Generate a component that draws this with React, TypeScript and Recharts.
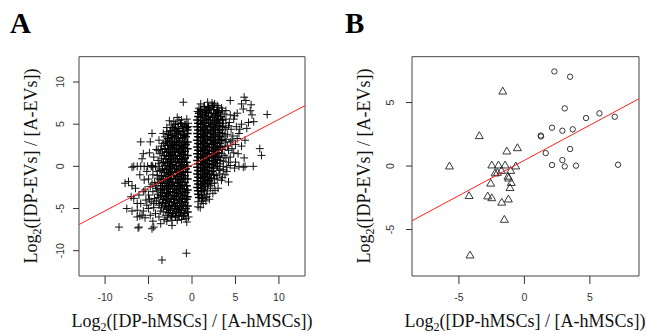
import React from "react";
import { ScatterChart, Scatter, XAxis, YAxis, ReferenceArea } from "recharts";

// ---------- Panel A data (Log2 ratios) ----------
const coreLeftA: number[][] = [
  [-1.9,5.0],[-1.3,5.1],[-0.8,4.9],
  [-2.2,4.6],[-1.6,4.5],[-1.1,4.7],[-0.6,4.6],
  [-2.5,4.2],[-2.0,4.3],[-1.5,4.1],[-1.0,4.2],[-0.5,4.3],
  [-2.7,3.8],[-2.3,3.7],[-1.8,3.9],[-1.3,3.8],[-0.9,3.7],[-0.5,3.9],
  [-2.8,3.3],[-2.4,3.4],[-2.0,3.5],[-1.6,3.3],[-1.1,3.4],[-0.7,3.5],
  [-3.0,2.9],[-2.6,3.0],[-2.2,2.8],[-1.8,2.9],[-1.4,3.0],[-0.9,2.8],[-0.5,2.9],
  [-2.8,2.5],[-2.4,2.4],[-2.0,2.6],[-1.6,2.5],[-1.2,2.4],[-0.7,2.6],
  [-3.1,2.1],[-2.7,2.0],[-2.2,2.2],[-1.8,2.1],[-1.4,2.0],[-1.0,2.2],[-0.5,2.1],
  [-2.9,1.7],[-2.5,1.6],[-2.0,1.8],[-1.6,1.7],[-1.2,1.6],[-0.8,1.8],
  [-3.2,1.3],[-2.7,1.2],[-2.3,1.4],[-1.9,1.3],[-1.4,1.2],[-1.0,1.4],[-0.5,1.3],
  [-3.0,0.9],[-2.5,0.8],[-2.1,1.0],[-1.7,0.9],[-1.2,0.8],[-0.8,1.0],
  [-3.3,0.5],[-2.8,0.4],[-2.4,0.6],[-1.9,0.5],[-1.5,0.4],[-1.1,0.6],[-0.6,0.5],
  [-3.1,0.1],[-2.6,0.0],[-2.2,0.2],[-1.8,0.1],[-1.3,0.0],[-0.9,0.2],[-0.5,0.0],
  [-3.4,-0.3],[-2.9,-0.4],[-2.5,-0.2],[-2.0,-0.3],[-1.6,-0.4],[-1.2,-0.2],[-0.7,-0.3],
  [-3.2,-0.7],[-2.7,-0.8],[-2.3,-0.6],[-1.8,-0.7],[-1.4,-0.8],[-1.0,-0.6],[-0.5,-0.7],
  [-3.5,-1.1],[-3.0,-1.2],[-2.5,-1.0],[-2.1,-1.1],[-1.7,-1.2],[-1.2,-1.0],[-0.8,-1.1],
  [-3.3,-1.5],[-2.8,-1.6],[-2.4,-1.4],[-1.9,-1.5],[-1.5,-1.6],[-1.0,-1.4],[-0.5,-1.5],
  [-3.6,-1.9],[-3.1,-2.0],[-2.6,-1.8],[-2.2,-1.9],[-1.7,-2.0],[-1.3,-1.8],[-0.8,-1.9],
  [-3.4,-2.3],[-2.9,-2.4],[-2.4,-2.2],[-2.0,-2.3],[-1.5,-2.4],[-1.1,-2.2],[-0.6,-2.3],
  [-3.6,-2.7],[-3.2,-2.8],[-2.7,-2.6],[-2.2,-2.7],[-1.8,-2.8],[-1.3,-2.6],[-0.9,-2.7],[-0.5,-2.8],
  [-3.4,-3.1],[-2.9,-3.2],[-2.5,-3.0],[-2.0,-3.1],[-1.6,-3.2],[-1.1,-3.0],[-0.7,-3.1],
  [-3.6,-3.5],[-3.1,-3.6],[-2.7,-3.4],[-2.2,-3.5],[-1.8,-3.6],[-1.3,-3.4],[-0.9,-3.5],[-0.5,-3.6],
  [-3.3,-3.9],[-2.9,-4.0],[-2.4,-3.8],[-2.0,-3.9],[-1.5,-4.0],[-1.1,-3.8],[-0.6,-3.9],
  [-3.4,-4.3],[-3.0,-4.4],[-2.6,-4.2],[-2.1,-4.3],[-1.7,-4.4],[-1.2,-4.2],[-0.8,-4.3],
  [-3.1,-4.7],[-2.7,-4.8],[-2.3,-4.6],[-1.9,-4.7],[-1.4,-4.8],[-1.0,-4.6],[-0.5,-4.7],
  [-2.9,-5.1],[-2.5,-5.2],[-2.0,-5.0],[-1.6,-5.1],[-1.2,-5.2],[-0.7,-5.0],
  [-2.7,-5.5],[-2.2,-5.6],[-1.8,-5.4],[-1.3,-5.5],[-0.9,-5.6],[-0.5,-5.4],
  [-2.4,-5.9],[-1.9,-6.0],[-1.5,-5.8],[-1.0,-5.9],
];

const coreRightA: number[][] = [
  [1.4,7.1],[1.9,7.0],[2.4,7.2],
  [1.0,6.7],[1.5,6.6],[2.0,6.8],[2.5,6.7],[2.9,6.6],
  [0.8,6.3],[1.2,6.2],[1.7,6.4],[2.2,6.3],[2.7,6.2],[3.1,6.4],
  [0.7,5.9],[1.0,5.8],[1.5,6.0],[1.9,5.9],[2.4,5.8],[2.9,6.0],[3.3,5.9],
  [0.6,5.5],[1.2,5.4],[1.7,5.6],[2.1,5.5],[2.6,5.4],[3.0,5.6],[3.5,5.5],
  [0.7,5.1],[1.0,5.0],[1.4,5.2],[1.9,5.1],[2.3,5.0],[2.8,5.2],[3.2,5.1],
  [0.6,4.7],[1.2,4.6],[1.6,4.8],[2.1,4.7],[2.5,4.6],[3.0,4.8],[3.5,4.7],
  [0.7,4.3],[1.0,4.2],[1.4,4.4],[1.8,4.3],[2.3,4.2],[2.7,4.4],[3.2,4.3],
  [0.6,3.9],[1.2,3.8],[1.6,4.0],[2.1,3.9],[2.5,3.8],[3.0,4.0],[3.5,3.9],
  [0.7,3.5],[1.0,3.4],[1.4,3.6],[1.8,3.5],[2.3,3.4],[2.7,3.6],[3.2,3.5],
  [0.6,3.1],[1.2,3.0],[1.6,3.2],[2.1,3.1],[2.5,3.0],[3.0,3.2],[3.4,3.1],
  [0.7,2.7],[1.0,2.6],[1.4,2.8],[1.8,2.7],[2.3,2.6],[2.7,2.8],[3.2,2.7],
  [0.6,2.3],[1.2,2.2],[1.6,2.4],[2.0,2.3],[2.5,2.2],[2.9,2.4],[3.3,2.3],
  [0.7,1.9],[1.0,1.8],[1.4,2.0],[1.8,1.9],[2.3,1.8],[2.7,2.0],[3.1,1.9],
  [0.6,1.5],[1.2,1.4],[1.6,1.6],[2.0,1.5],[2.5,1.4],[2.9,1.6],
  [0.7,1.1],[1.0,1.0],[1.4,1.2],[1.8,1.1],[2.3,1.0],[2.7,1.2],[3.1,1.1],
  [0.6,0.7],[1.2,0.6],[1.6,0.8],[2.0,0.7],[2.5,0.6],[2.9,0.8],
  [0.7,0.3],[1.0,0.2],[1.4,0.4],[1.8,0.3],[2.3,0.2],[2.7,0.4],
  [0.6,-0.1],[1.2,-0.2],[1.6,0.0],[2.0,-0.1],[2.5,-0.2],[2.9,0.0],
  [0.7,-0.5],[1.0,-0.6],[1.4,-0.4],[1.8,-0.5],[2.3,-0.6],
  [0.6,-0.9],[1.2,-1.0],[1.6,-0.8],[2.0,-0.9],[2.5,-1.0],
  [0.7,-1.3],[1.0,-1.4],[1.4,-1.2],[1.8,-1.3],[2.2,-1.4],
  [0.6,-1.7],[1.2,-1.8],[1.6,-1.6],[2.0,-1.7],
  [0.7,-2.1],[1.0,-2.2],[1.4,-2.0],[1.8,-2.1],
  [0.6,-2.5],[1.1,-2.6],[1.5,-2.4],
  [0.7,-2.9],[1.1,-3.0],[1.4,-2.8],
  [0.7,-3.3],[1.1,-3.4],
  [0.8,-3.7],[1.2,-3.8],
];

const edgeA: number[][] = [
  [-3.6,2.0],[-3.9,1.9],[-3.5,0.9],[-3.8,0.3],[-3.7,-0.5],[-4.0,-1.1],[-3.9,-2.0],[-4.2,-2.3],
  [-4.0,-2.9],[-3.9,-3.7],[-4.1,-4.1],[-3.7,-4.4],[-3.5,-4.9],[-3.3,-5.4],[-3.0,-5.8],[-2.8,-6.1],
  [-0.4,-6.0],[-0.6,-6.6],[-3.1,3.5],[-2.9,4.1],[-2.4,4.9],[-0.45,5.1],[-0.4,4.7],[-2.1,5.3],
  [-1.2,5.5],[-3.3,2.7],[-3.4,1.7],[-3.7,-1.6],[-4.6,-2.1],[-4.4,-4.4],[-5.2,-4.6],[-4.9,-3.9],
  [3.6,5.1],[3.8,4.4],[3.7,3.6],[3.9,2.9],[3.5,2.0],[3.4,1.5],[3.3,0.7],[3.2,0.3],[3.1,-0.5],
  [2.8,-1.1],[2.6,-1.5],[2.3,-2.0],[2.1,-2.6],[1.8,-2.9],[1.7,-3.3],[1.5,-3.7],[0.7,-4.2],
  [1.1,-4.1],[3.7,6.2],[3.5,6.6],[2.9,7.2],[0.8,6.9],[0.65,6.5],[4.2,4.8],[4.6,3.1],[4.1,2.4],
  [3.9,1.0],[4.6,2.1],[5.2,3.3],[5.5,4.4],[4.9,6.0],[5.9,6.8],[3.6,-0.4],[4.0,-0.6],[3.8,-1.0],
];

const outerLeftA: number[][] = [
  [-2.6,5.4],[-1.5,5.5],[-0.6,5.6],[-1.7,5.8],[-1.0,7.6],[-2.9,4.6],[-3.3,3.9],[-3.8,3.1],
  [-3.5,2.4],[-4.1,2.0],[-3.7,1.5],[-4.4,1.1],[-3.9,0.7],[-4.6,3.9],[-4.8,2.9],[-5.9,2.9],
  [-5.6,1.5],[-5.75,0.9],[-4.9,1.6],
  [-6.9,-0.1],[-6.7,0.0],[-6.3,0.0],[-5.9,0.0],[-5.5,0.0],[-5.1,0.0],[-4.7,0.0],[-4.6,0.1],
  [-4.5,-0.1],[-4.6,0.0],[-4.2,0.0],[-3.8,0.0],
  [-4.0,-0.6],[-4.5,-1.0],[-3.9,-1.4],[-5.0,-1.5],[-4.3,-1.9],[-5.5,-1.6],[-6.0,-1.0],[-5.2,-0.6],
  [-4.8,-2.4],[-4.1,-2.6],[-5.4,-2.8],[-4.5,-3.0],[-3.9,-3.3],[-5.0,-3.4],[-5.6,-3.0],[-6.1,-3.4],
  [-4.3,-3.8],[-3.8,-4.6],[-4.7,-4.2],[-5.3,-4.0],[-5.9,-4.4],[-4.4,-4.9],[-3.6,-5.3],[-5.0,-5.0],
  [-5.6,-5.3],[-4.2,-5.6],[-4.8,-5.8],[-6.3,-5.2],[-6.0,-5.9],[-5.4,-6.1],[-3.8,-6.0],[-3.2,-6.3],
  [-2.9,-6.5],[-2.3,-6.4],[-1.7,-6.4],[-1.2,-6.3],[-0.7,-6.2],[-4.5,-6.5],[-3.6,-6.8],[-2.3,-7.0],
  [-7.7,-2.0],[-7.3,-1.8],[-6.9,-2.3],[-6.5,-2.6],[-6.7,-3.8],[-7.0,-3.6],[-6.3,-4.4],[-7.5,-5.0],
  [-6.9,-5.3],[-6.3,-6.0],[-5.75,-5.8],
  [-8.4,-7.2],[-6.2,-7.3],[-6.1,-7.2],[-4.6,-7.4],[-4.4,-7.2],[-3.45,-11.1],[-0.65,-10.3],
];

const outerRightA: number[][] = [
  [2.3,7.5],[2.6,7.4],[3.0,7.0],[3.4,6.9],[1.0,7.4],[1.8,7.6],[4.4,7.8],[5.7,7.4],[6.0,8.2],
  [6.2,7.8],[6.8,7.3],[6.7,6.6],[6.9,6.1],[8.65,6.15],[4.4,6.1],[5.2,6.3],[3.9,6.6],[5.7,5.0],
  [6.5,5.2],[7.1,5.3],[6.3,4.5],[3.9,5.6],[4.3,5.2],[4.8,5.6],[3.9,4.6],[4.5,4.4],[5.1,4.7],
  [4.1,3.8],[4.7,3.6],[5.4,3.9],[6.1,3.1],[3.9,3.2],[4.4,2.9],[5.0,2.6],[5.7,2.4],[3.8,2.4],
  [4.2,1.9],[4.8,1.6],[3.7,1.3],[4.4,1.1],[5.3,1.5],[6.0,1.0],[3.6,0.6],[4.2,0.5],[5.0,0.5],
  [3.2,-0.3],[3.6,0.0],[4.0,-0.1],[4.4,0.1],[4.9,-0.2],[5.4,0.0],[5.9,-0.1],[6.1,0.0],[7.05,0.0],
  [7.8,2.1],[8.0,1.3],
  [3.2,-0.9],[3.5,-1.3],[2.9,-1.5],[3.4,-1.65],[4.2,-1.85],[2.6,-2.0],[3.0,-2.6],[2.65,-2.85],
  [2.1,-2.3],[2.4,-3.2],[1.7,-3.6],[1.3,-4.4],[0.7,-4.8],[0.95,-4.9],[2.0,-3.9],[1.6,-4.1],
];

const ticksA = [-10, -5, 0, 5, 10];
const domainA: [number, number] = [-13, 13];
const fitA = [{ x: -13, y: -6.9 }, { x: 13, y: 7.2 }];

// ---------- Panel B data ----------
const trianglesB: number[][] = [
  [-5.72,-0.05],[-3.44,2.34],[-1.65,5.85],[-1.34,1.13],[-0.53,1.39],[-2.49,0.03],[-1.98,0.03],
  [-1.47,0.03],[-0.66,-0.05],[-2.24,-0.6],[-2.06,-0.55],[-1.75,-0.4],[-1.05,-0.4],[-1.25,-0.85],
  [-1.2,-1.0],[-1.0,-1.35],[-1.1,-1.75],[-2.57,-1.4],[-4.22,-2.38],[-2.8,-2.41],[-2.49,-2.55],
  [-1.73,-2.9],[-1.22,-2.65],[-1.53,-4.25],[-4.15,-7.06],
];
const circlesB: number[][] = [
  [2.29,7.45],[3.49,7.03],[3.08,4.54],[4.71,3.78],[5.73,4.15],[6.9,3.88],[2.11,3.02],[2.9,2.78],
  [3.69,2.89],[1.25,2.4],[1.27,2.33],[1.63,1.02],[3.49,1.34],[2.9,0.47],[2.11,0.08],[3.08,-0.03],
  [3.94,0.03],[7.15,0.1],
];
const ticksB = [-5, 0, 5];
const domainBX: [number, number] = [-8.58, 8.75];
const domainBY: [number, number] = [-8.66, 8.61];
const fitB = [{ x: -8.58, y: -4.31 }, { x: 8.75, y: 5.3 }];

const toPts = (a: number[][]) => a.map(([x, y]) => ({ x, y }));

const SANS = "'Liberation Sans', Arial, Helvetica, sans-serif";
const SERIF = "'Liberation Serif', 'Times New Roman', Times, serif";

const Plus = (p: any) => (
  <path d={`M${p.cx - 4},${p.cy}h8M${p.cx},${p.cy - 4}v8`} stroke="#111" strokeWidth={1} fill="none" />
);
const PlusCore = (p: any) => (
  <path d={`M${p.cx - 4},${p.cy}h8M${p.cx},${p.cy - 4}v8`} stroke="#000" strokeWidth={1.5} fill="none" />
);
const Tri = (p: any) => {
  const r = 4.6;
  const h = r * 0.866;
  return (
    <path
      d={`M${p.cx},${p.cy - r}L${p.cx + h},${p.cy + r / 2}L${p.cx - h},${p.cy + r / 2}Z`}
      stroke="#222"
      strokeWidth={0.9}
      fill="none"
    />
  );
};
const Circ = (p: any) => <circle cx={p.cx} cy={p.cy} r={2.7} stroke="#222" strokeWidth={0.9} fill="none" />;
const NoDot = () => <g />;

const XTick = (p: any) => (
  <text x={p.x} y={p.y} textAnchor="middle" dominantBaseline="central" fontSize={10.5} fill="#333" fontFamily={SANS}>
    {p.payload.value}
  </text>
);
const YTick = (p: any) => (
  <text
    x={p.x}
    y={p.y}
    transform={`rotate(-90 ${p.x} ${p.y})`}
    textAnchor="middle"
    dominantBaseline="central"
    fontSize={10.5}
    fill="#333"
    fontFamily={SANS}
  >
    {p.payload.value}
  </text>
);

const AxisTitle = ({ x, y, rotate, text }: { x: number; y: number; rotate?: boolean; text: string }) => (
  <text
    transform={`translate(${x},${y})${rotate ? " rotate(-90)" : ""}`}
    textAnchor="middle"
    fontSize={18}
    fontFamily={SERIF}
    fill="#111"
  >
    Log
    <tspan fontSize={12} dy={4}>2</tspan>
    <tspan dy={-4}>{text}</tspan>
  </text>
);

export default function App() {
  return (
    <div style={{ position: "absolute", left: 0, top: 0, width: 646, height: 334, background: "#fff" }}>
      <div style={{ position: "absolute", left: 0, top: 0 }}>
        <ScatterChart width={323} height={334} margin={{ top: 56.7, right: 18, bottom: 0, left: 0 }}>
          <XAxis
            type="number"
            dataKey="x"
            domain={domainA}
            ticks={ticksA}
            allowDataOverflow
            height={58}
            axisLine={false}
            tickSize={8}
            tickMargin={13}
            tickLine={{ stroke: "#333" }}
            tick={<XTick />}
          />
          <YAxis
            type="number"
            dataKey="y"
            domain={domainA}
            ticks={ticksA}
            allowDataOverflow
            width={79}
            axisLine={false}
            tickSize={6}
            tickMargin={13}
            tickLine={{ stroke: "#333" }}
            tick={<YTick />}
          />
          <Scatter data={toPts(outerLeftA)} shape={Plus} isAnimationActive={false} />
          <Scatter data={toPts(outerRightA)} shape={Plus} isAnimationActive={false} />
          <Scatter data={toPts(edgeA)} shape={Plus} isAnimationActive={false} />
          <Scatter data={toPts(coreLeftA)} shape={PlusCore} isAnimationActive={false} />
          <Scatter data={toPts(coreRightA)} shape={PlusCore} isAnimationActive={false} />
          <Scatter data={fitA} shape={NoDot} line={{ stroke: "#ff2020", strokeWidth: 1 }} isAnimationActive={false} />
          <ReferenceArea x1={-13} x2={13} y1={-13} y2={13} fill="none" stroke="#444" strokeWidth={1} ifOverflow="visible" />
        </ScatterChart>
      </div>
      <div style={{ position: "absolute", left: 323, top: 0 }}>
        <ScatterChart width={323} height={334} margin={{ top: 56.7, right: 7, bottom: 0, left: 0 }}>
          <XAxis
            type="number"
            dataKey="x"
            domain={domainBX}
            ticks={ticksB}
            allowDataOverflow
            height={58}
            axisLine={false}
            tickSize={8}
            tickMargin={13}
            tickLine={{ stroke: "#333" }}
            tick={<XTick />}
          />
          <YAxis
            type="number"
            dataKey="y"
            domain={domainBY}
            ticks={ticksB}
            allowDataOverflow
            width={89}
            axisLine={false}
            tickSize={6}
            tickMargin={16}
            tickLine={{ stroke: "#333" }}
            tick={<YTick />}
          />
          <Scatter data={toPts(trianglesB)} shape={Tri} isAnimationActive={false} />
          <Scatter data={toPts(circlesB)} shape={Circ} isAnimationActive={false} />
          <Scatter data={fitB} shape={NoDot} line={{ stroke: "#ff2020", strokeWidth: 1 }} isAnimationActive={false} />
          <ReferenceArea x1={domainBX[0]} x2={domainBX[1]} y1={domainBY[0]} y2={domainBY[1]} fill="none" stroke="#444" strokeWidth={1} ifOverflow="visible" />
        </ScatterChart>
      </div>
      <svg width={646} height={334} style={{ position: "absolute", left: 0, top: 0, pointerEvents: "none" }}>
        <text x={10} y={33} fontSize={29} fontWeight="bold" fontFamily={SERIF} fill="#000">A</text>
        <text x={345} y={33} fontSize={29} fontWeight="bold" fontFamily={SERIF} fill="#000">B</text>
        <AxisTitle x={192} y={327} text="([DP-hMSCs] / [A-hMSCs])" />
        <AxisTitle x={37} y={166} rotate text="([DP-EVs] / [A-EVs])" />
        <AxisTitle x={525} y={327} text="([DP-hMSCs] / [A-hMSCs])" />
        <AxisTitle x={370} y={166} rotate text="([DP-EVs] / [A-EVs])" />
      </svg>
    </div>
  );
}
